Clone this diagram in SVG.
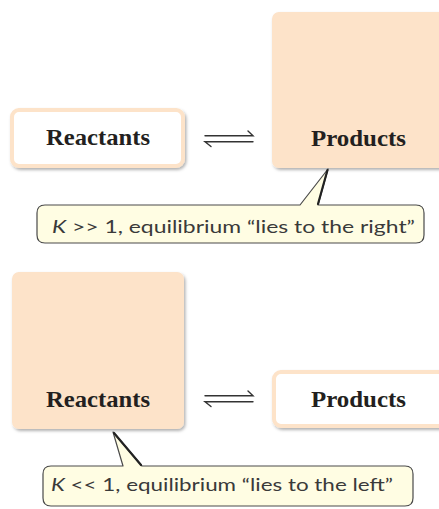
<svg xmlns="http://www.w3.org/2000/svg" width="439" height="509" viewBox="0 0 439 509">
<defs>
<filter id="sh" x="-10%" y="-10%" width="130%" height="130%">
<feDropShadow dx="1.5" dy="2" stdDeviation="1.5" flood-color="#000" flood-opacity="0.3"/>
</filter>
</defs>
<style>
.peach{fill:#fde3c9;filter:url(#sh)}
.white{fill:#ffffff;stroke:#fde3c9;stroke-width:4;filter:url(#sh)}
.lbl{font-family:"Liberation Serif","Times New Roman",serif;font-weight:bold;font-size:23px;fill:#231f20;text-anchor:start}
.call{fill:#fffde3;stroke:#4a4a4a;stroke-width:1.2;stroke-linejoin:round}
.ctext{font-family:Lato,"Open Sans",sans-serif;font-size:18px;fill:#3a3a3a}
.arr{stroke:#333;stroke-width:1.4;fill:none;stroke-linecap:round}
.tail{stroke:#222;stroke-width:2.2;fill:none;stroke-linecap:round}
</style>
<rect width="439" height="509" fill="#ffffff"/>

<g id="reactants-top">
<rect class="white" x="12" y="110" width="171" height="56" rx="7"/>
<text class="lbl" x="46" y="145" textLength="104" lengthAdjust="spacingAndGlyphs">Reactants</text>
</g>
<g id="products-top">
<rect class="peach" x="272" y="12" width="175" height="156" rx="7"/>
<text class="lbl" x="311" y="146" textLength="95" lengthAdjust="spacingAndGlyphs">Products</text>
</g>
<g id="callout-top">
<path class="call" d="M45,205 H300 L328,169 L318,205 H416 Q424,205 424,213 V235 Q424,243 416,243 H45 Q37,243 37,235 V213 Q37,205 45,205 Z"/>
<line class="tail" x1="327.5" y1="170" x2="318" y2="204"/>
<text class="ctext" x="52" y="233" textLength="363" lengthAdjust="spacingAndGlyphs"><tspan font-style="italic">K</tspan> &gt;&gt; 1, equilibrium “lies to the right”</text>
</g>

<g id="reactants-bottom">
<rect class="peach" x="12" y="272" width="172" height="157" rx="7"/>
<text class="lbl" x="46" y="407" textLength="104" lengthAdjust="spacingAndGlyphs">Reactants</text>
</g>
<g id="products-bottom">
<rect class="white" x="274" y="372" width="172" height="54" rx="7"/>
<text class="lbl" x="311" y="407" textLength="95" lengthAdjust="spacingAndGlyphs">Products</text>
</g>
<g id="callout-bottom">
<path class="call" d="M51,466 H123 L113,432 L142,466 H405 Q413,466 413,474 V498 Q413,506 405,506 H51 Q43,506 43,498 V474 Q43,466 51,466 Z"/>
<line class="tail" x1="114" y1="433" x2="141" y2="465"/>
<text class="ctext" x="51" y="491" textLength="342" lengthAdjust="spacingAndGlyphs"><tspan font-style="italic">K</tspan> &lt;&lt; 1, equilibrium “lies to the left”</text>
</g>

<g id="connectors">
<g id="eq-top">
<path class="arr" d="M205,135.7 H253 L248,131"/>
<path class="arr" d="M253,141.7 H205 L211,146.5"/>
</g>
<g id="eq-bottom">
<path class="arr" d="M205,395.7 H253 L248,391"/>
<path class="arr" d="M253,401.7 H205 L211,406.5"/>
</g>
</g>
</svg>
